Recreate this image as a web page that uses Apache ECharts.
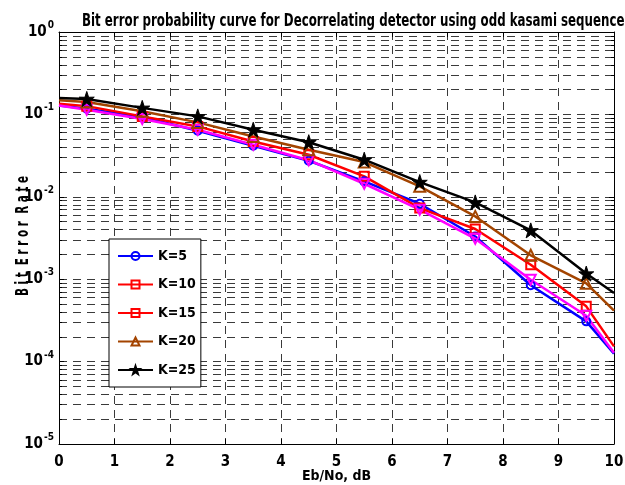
<!DOCTYPE html>
<html>
<head>
<meta charset="utf-8">
<script src="https://cdn.jsdelivr.net/npm/echarts@6/dist/echarts.min.js"></script>
<style>
  html, body { margin: 0; padding: 0; background: #fff; }
  #chart { width: 625px; height: 485px; }
</style>
</head>
<body>
<div id="chart"></div>
<script>
// Eb/No sample points in dB; markers sit on the half-dB points only
const ebno = [0, 0.5, 1.5, 2.5, 3.5, 4.5, 5.5, 6.5, 7.5, 8.5, 9.5, 10];

// Bit error rate per number of users K
const berK5  = [0.1286, 0.117, 0.093, 0.0634, 0.0417, 0.0274, 0.0154, 0.00824, 0.0033, 0.000845, 0.000308, 0.000125];
const berK10 = [0.135, 0.126, 0.0946, 0.0715, 0.047, 0.0324, 0.0177, 0.0073, 0.00407, 0.0015, 0.000468, 0.000153];
const berK15 = [0.1286, 0.114, 0.088, 0.0652, 0.0429, 0.0278, 0.0144, 0.00697, 0.0031, 0.000986, 0.00036, 0.000128];
const berK20 = [0.148, 0.141, 0.109, 0.080, 0.054, 0.0373, 0.0264, 0.0134, 0.00578, 0.00195, 0.00089, 0.000415];
const berK25 = [0.158, 0.154, 0.120, 0.0946, 0.0652, 0.046, 0.0282, 0.0151, 0.00855, 0.00391, 0.00117, 0.00068];

const legendNames = ['K=5', 'K=10', 'K=15', 'K=20', 'K=25'];
const titleText = 'Bit error probability curve for Decorrelating detector using odd kasami sequence';
const yTitle = 'B i t  E r r o r  R a t e';
const xTitle = 'Eb/No, dB';

const FONT = "'Liberation Sans Narrow', 'Arial Narrow', 'DejaVu Sans Condensed', 'Liberation Sans', sans-serif";
const GRID_DASH = { type: [8, 6], color: '#3a3a3a', width: 1 };
const STAR = 'path://M50,0 L61.8,35.1 L97.6,34.5 L68.8,56.2 L79.4,90.5 L50,70 L20.6,90.5 L31.2,56.2 L2.4,34.5 L38.2,35.1 Z';

function points(ys) {
  return ebno.map((x, i) => {
    const item = { value: [x, ys[i]] };
    if (x % 1 === 0) item.symbol = 'none';
    return item;
  });
}

function curve(name, ys, color, symbol, size, opts) {
  const hollow = !(opts && opts.filled);
  return Object.assign({
    name: name,
    type: 'line',
    data: ys ? points(ys) : [],
    symbol: symbol,
    symbolSize: size,
    showAllSymbol: true,
    animation: false,
    lineStyle: { color: color, width: 2.5 },
    itemStyle: hollow
      ? { color: 'rgba(255,255,255,0)', borderColor: color, borderWidth: 2 }
      : { color: color, borderColor: color, borderWidth: 1 },
    emphasis: { disabled: true }
  }, opts && opts.extra);
}

const chart = echarts.init(document.getElementById('chart'), null, { renderer: 'canvas' });

const axisLineStyle = { show: true, onZero: false, lineStyle: { color: '#000', width: 1 } };

chart.setOption({
  backgroundColor: '#fff',
  animation: false,
  graphic: [{
    // condensed bold title above the axes box
    type: 'text',
    x: 82,
    y: 21,
    scaleX: 0.73,
    silent: true,
    style: {
      text: titleText,
      fill: '#000',
      font: 'bold 18px ' + FONT,
      textAlign: 'left',
      textVerticalAlign: 'middle'
    }
  }, {
    // vertical y-axis caption, condensed along the text direction
    type: 'text',
    x: 24,
    y: 236,
    rotation: Math.PI / 2,
    scaleX: 0.68,
    silent: true,
    style: {
      text: yTitle,
      fill: '#000',
      font: 'bold 17px ' + FONT,
      textAlign: 'center',
      textVerticalAlign: 'middle'
    }
  }],
  grid: { left: 59, right: 11, top: 32, bottom: 41, containLabel: false, outerBoundsMode: 'none' },
  legend: {
    data: legendNames,
    orient: 'vertical',
    left: 109,
    top: 239,
    padding: [9, 5, 9, 8],
    itemWidth: 35,
    itemHeight: 10,
    itemGap: 12.5,
    backgroundColor: '#fff',
    borderColor: '#000',
    borderWidth: 1,
    borderRadius: 0,
    textStyle: { fontFamily: FONT, fontWeight: 'bold', fontSize: 14, color: '#000', lineHeight: 16 }
  },
  xAxis: [{
    type: 'value', min: 0, max: 10, interval: 1, position: 'bottom',
    axisLine: axisLineStyle,
    axisTick: { inside: true, length: 5, lineStyle: { color: '#000' } },
    axisLabel: { fontFamily: FONT, fontWeight: 'bold', fontSize: 15, color: '#000', margin: 11 },
    splitLine: { show: true, lineStyle: GRID_DASH },
    name: xTitle,
    nameLocation: 'middle',
    nameGap: 25,
    nameMoveOverlap: false,
    nameTextStyle: { fontFamily: FONT, fontWeight: 'bold', fontSize: 14, color: '#000' }
  }, {
    type: 'value', min: 0, max: 10, interval: 1, position: 'top',
    axisLine: axisLineStyle,
    axisTick: { inside: true, length: 5, lineStyle: { color: '#000' } },
    axisLabel: { show: false },
    splitLine: { show: false }
  }],
  yAxis: [{
    type: 'log', logBase: 10, min: 1e-5, max: 1, position: 'left',
    axisLine: axisLineStyle,
    axisTick: { inside: true, length: 5, lineStyle: { color: '#000' } },
    minorTick: { show: true, splitNumber: 9, length: 3, lineStyle: { color: '#000' } },
    splitLine: { show: true, lineStyle: GRID_DASH },
    minorSplitLine: { show: true, lineStyle: GRID_DASH },
    axisLabel: {
      margin: 5,
      formatter: v => '{b|10}{e|' + Math.round(Math.log10(v)) + '}',
      rich: {
        b: { fontFamily: FONT, fontWeight: 'bold', fontSize: 15, color: '#000' },
        e: { fontFamily: FONT, fontWeight: 'bold', fontSize: 10, color: '#000', padding: [0, 0, 13, 1] }
      }
    }
  }, {
    type: 'log', logBase: 10, min: 1e-5, max: 1, position: 'right',
    axisLine: axisLineStyle,
    axisTick: { inside: true, length: 5, lineStyle: { color: '#000' } },
    minorTick: { show: true, splitNumber: 9, length: 3, lineStyle: { color: '#000' } },
    axisLabel: { show: false },
    splitLine: { show: false }
  }],
  series: [
    curve('K=5', berK5, '#0000ff', 'circle', 8),
    curve('K=10', berK10, '#ff0000', 'rect', 9),
    // legend entry for K=15 (drawn as a red square in the key)
    curve('K=15', null, '#ff0000', 'rect', 9),
    curve('K=15', berK15, '#ff00ff', 'triangle', 10, { extra: { symbolRotate: 180 } }),
    curve('K=20', berK20, '#a34400', 'triangle', 11),
    curve('K=25', berK25, '#000000', STAR, 15, { filled: true })
  ]
});
</script>
</body>
</html>
